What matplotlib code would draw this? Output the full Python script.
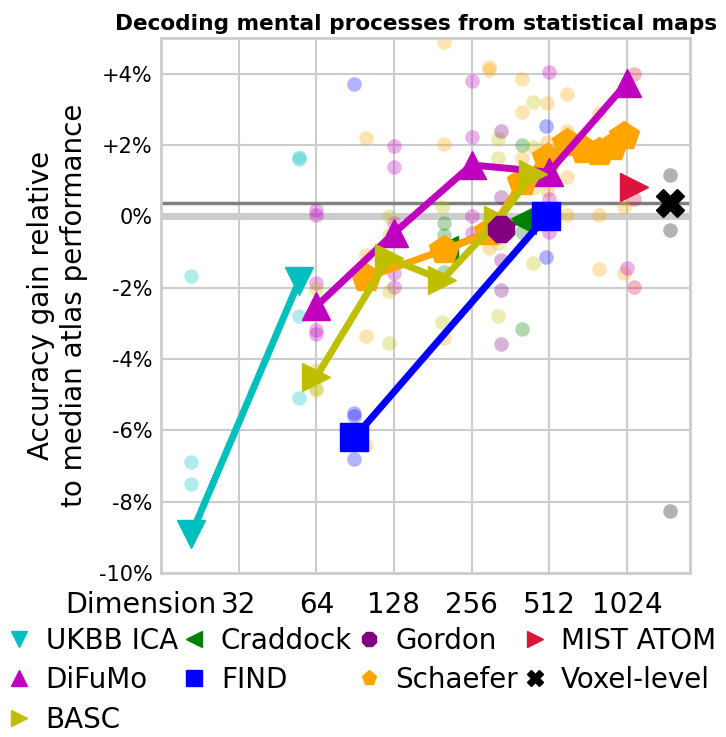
import matplotlib
matplotlib.use('Agg')
import matplotlib.pyplot as plt
from matplotlib.lines import Line2D
from matplotlib.ticker import NullLocator


# summary values (gain relative to median atlas, in %)
ukbb_dims = [21, 55]
ukbb_gain = [-8.9, -1.8]
difumo_dims = [64, 128, 256, 512, 1024]
difumo_gain = [-2.52, -0.47, 1.44, 1.24, 3.74]
basc_dims = [64, 122, 197, 325, 444]
basc_gain = [-4.5, -1.17, -1.78, -0.1, 1.2]
craddock_dims = [200, 400]
craddock_gain = [-0.94, -0.09]
find_dims = [90, 499]
find_gain = [-6.2, 0.0]
gordon_dims = [333]
gordon_gain = [-0.36]
schaefer_dims = [100, 200, 300, 400, 500, 600, 700, 800, 900, 1000]
schaefer_gain = [-1.72, -0.94, -0.45, 0.95, 1.65, 2.05, 1.85, 1.8, 1.95, 2.25]
mist_dims = [1094]
mist_gain = [0.82]
voxel_dims = [1500]
voxel_gain = [0.37]

# individual results (dimension, gain)
ukbb_pts = [(21, -1.67), (21, -6.9), (21, -7.5), (55, 1.67), (55, 1.62), (55, -2.8), (55, -5.1)]
difumo_pts = [(64, 0.18), (64, 0.04), (64, -1.87), (64, -3.2), (64, -3.3),
              (128, 1.97), (128, 1.38), (128, -0.2), (128, -1.6), (128, -1.98),
              (256, 3.8), (256, 2.22), (256, 0.0), (256, -0.47),
              (512, 4.05), (512, 0.5), (512, -0.44),
              (1024, 2.2), (1024, -1.45)]
basc_pts = [(64, -2.05), (64, -4.3), (64, -4.8), (64, -4.87),
            (122, 0.0), (122, -0.52), (122, -2.1), (122, -3.55),
            (197, 0.26), (197, -2.96),
            (325, 2.17), (325, 1.63), (325, -0.75), (325, -2.79),
            (444, 3.2), (444, 1.94), (444, 0.8), (444, -1.3)]
craddock_pts = [(200, -0.2), (200, -0.52), (200, -1.57), (400, 2.0), (400, -0.44), (400, -3.17)]
find_pts = [(90, 3.71), (90, -5.5), (90, -5.6), (90, -6.8), (499, 2.52), (499, -1.14)]
gordon_pts = [(333, 2.4), (333, 0.55), (333, -1.22), (333, -2.07), (333, -3.58)]
schaefer_pts = [(100, 2.19), (100, -1.08), (100, -3.36), (100, -6.4),
                (200, 4.9), (200, 2.03), (200, -3.4),
                (300, 4.2), (300, 4.1), (300, -0.9),
                (400, 3.85), (400, 2.92), (400, 1.63),
                (500, 3.17), (500, 2.08), (500, 0.74),
                (600, 3.43), (600, 2.4), (600, 1.1), (600, 0.04),
                (800, 2.9), (800, 0.04), (800, -1.48),
                (1000, 0.26), (1000, -1.59)]
mist_pts = [(1094, 4.0), (1094, 0.5), (1094, -1.98)]
voxel_pts = [(1500, 1.16), (1500, -0.38), (1500, -8.26)]

x_ticks = [32, 64, 128, 256, 512, 1024]
y_ticks = [-10, -8, -6, -4, -2, 0, 2, 4]

# drawing order: name, dims, gain, points, color, marker, marker size
atlases = [
    ('Craddock', craddock_dims, craddock_gain, craddock_pts, 'g', '<', 20),
    ('Schaefer', schaefer_dims, schaefer_gain, schaefer_pts, 'orange', 'p', 22),
    ('DiFuMo', difumo_dims, difumo_gain, difumo_pts, 'm', '^', 20),
    ('BASC', basc_dims, basc_gain, basc_pts, 'y', '>', 20),
    ('Gordon', gordon_dims, gordon_gain, gordon_pts, 'purple', '8', 20),
    ('FIND', find_dims, find_gain, find_pts, 'b', 's', 20),
    ('UKBB ICA', ukbb_dims, ukbb_gain, ukbb_pts, 'c', 'v', 20),
    ('MIST ATOM', mist_dims, mist_gain, mist_pts, 'crimson', '>', 20),
    ('Voxel-level', voxel_dims, voxel_gain, voxel_pts, 'k', 'X', 20),
]
legend_order = ['UKBB ICA', 'DiFuMo', 'BASC', 'Craddock', 'FIND',
                'Gordon', 'Schaefer', 'MIST ATOM', 'Voxel-level']

fig = plt.figure(figsize=(7.26, 7.37), dpi=100)
ax = fig.add_axes([0.2218, 0.2225, 0.7286, 0.7259])

ax.axhline(0, color='.8', lw=5, zorder=1)
ax.axhline(voxel_gain[0], color='.5', lw=2.5, zorder=1)

handles = {}
for name, dims, gain, pts, color, marker, ms in atlases:
    ax.scatter([p[0] for p in pts], [p[1] for p in pts], s=110, color=color,
               alpha=0.3, lw=0, zorder=2)
    ax.plot(dims, gain, color=color, marker=marker, ms=ms, lw=5, zorder=3)
    handles[name] = Line2D([], [], ls='', marker=marker, color=color, ms=11)

ax.set_xscale('log', base=2)
ax.set_xlim(16, 1800)
ax.set_ylim(-10, 5)
ax.set_xticks(x_ticks)
ax.set_xticklabels([str(t) for t in x_ticks], fontsize=20)
ax.xaxis.set_minor_locator(NullLocator())
ax.set_yticks(y_ticks)
ax.set_yticklabels([('+%d%%' % t) if t > 0 else ('%d%%' % t) for t in y_ticks], fontsize=15)
ax.tick_params(length=0, pad=6)
ax.tick_params(axis='x', pad=13)
ax.grid(color='.8', lw=1.5)
ax.set_axisbelow(True)
for sp in ax.spines.values():
    sp.set_color('.8')
    sp.set_linewidth(2)

ax.set_ylabel('Accuracy gain relative\nto median atlas performance', fontsize=20, labelpad=8)
ax.set_title('Decoding mental processes from statistical maps', fontsize=15.6,
             fontweight='bold', pad=6, x=0.482)
ax.annotate('Dimension', xy=(0.104, 0), xycoords='axes fraction', xytext=(0, -13),
            textcoords='offset points', ha='right', va='top', fontsize=20.5)

fig.legend([handles[n] for n in legend_order], legend_order, loc='upper left',
           bbox_to_anchor=(-0.008, 0.165), ncol=4, frameon=False,
           fontsize=20, handlelength=1.0, handletextpad=0.45, columnspacing=0.1,
           labelspacing=0.42, borderaxespad=0.0)

fig.savefig('out.png', dpi=100)
